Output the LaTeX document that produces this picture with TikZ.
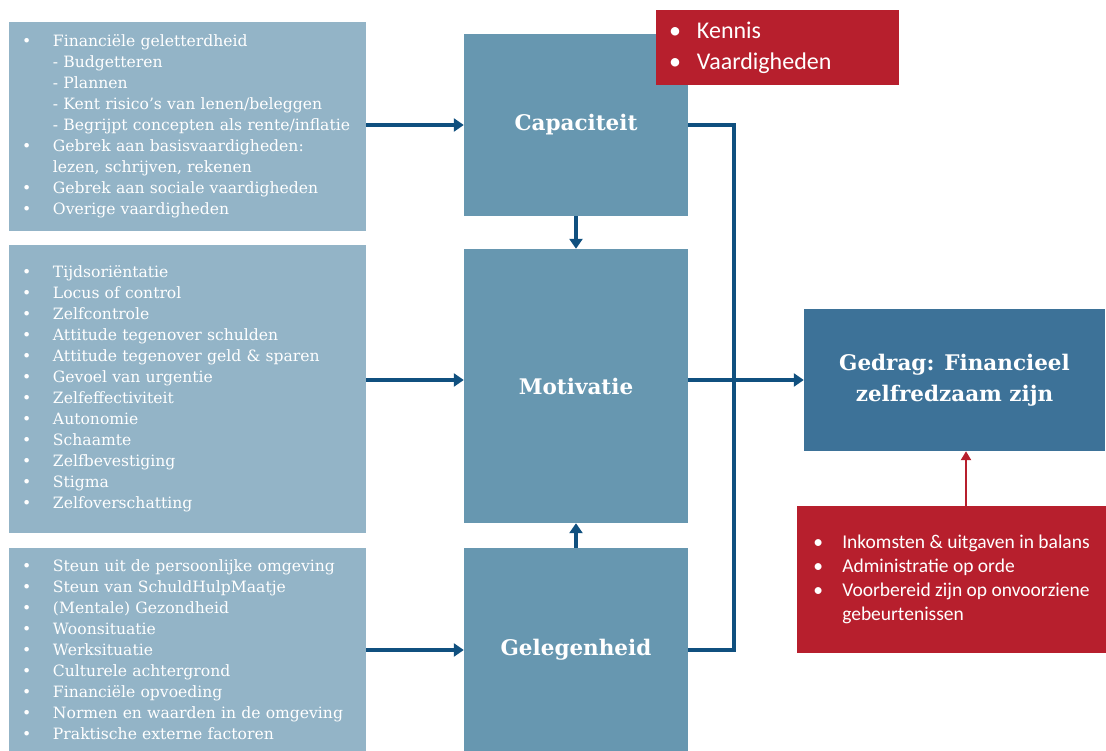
\documentclass[tikz,border=0pt]{standalone}
\usepackage{fontspec}
\setmainfont{DejaVu Serif}
\newfontfamily\calib{Carlito}
\usepackage{tikz}
\usetikzlibrary{arrows.meta,calc,positioning}
\definecolor{factblue}{HTML}{93B4C7}
\definecolor{midblue}{HTML}{6797B0}
\definecolor{gedblue}{HTML}{3D7298}
\definecolor{linkblue}{HTML}{10507F}
\definecolor{boxred}{HTML}{B71F2D}
\newcommand{\bul}[2][31pt]{\makebox[#1][l]{\textbullet}#2}
\newcommand{\ind}[2][31pt]{\hspace*{#1}#2}
\tikzset{
  factor/.style = {fill=factblue, text=white, minimum width=357, inner xsep=13pt,
                   text width=331pt, align=left,
                   font=\fontsize{15.6}{21}\selectfont},
  core/.style   = {fill=midblue, text=white, minimum width=224, align=center,
                   font=\bfseries\fontsize{21.5}{31}\selectfont},
  redbox/.style = {fill=boxred, text=white, align=left, inner xsep=13pt},
  wire/.style   = {line width=3.2pt, linkblue},
  vec/.style    = {-{Triangle[length=10pt,width=13pt]}, line width=3.2pt, linkblue},
  rvec/.style   = {-{Triangle[length=9pt,width=10pt]}, line width=2.2pt, boxred},
}
\begin{document}
\begin{tikzpicture}[x=1pt,y=-1pt]
  \useasboundingbox (0,0) rectangle (1106,751);
  % factor lists
  \node[factor, minimum height=209] (fac1) at (187.5,126.5) {%
    \bul{Financiële geletterdheid}\\
    \ind{- Budgetteren}\\
    \ind{- Plannen}\\
    \ind{- Kent risico’s van lenen/beleggen}\\
    \ind{- Begrijpt concepten als rente/inflatie}\\
    \bul{Gebrek aan basisvaardigheden:}\\
    \ind{lezen, schrijven, rekenen}\\
    \bul{Gebrek aan sociale vaardigheden}\\
    \bul{Overige vaardigheden}};
  \node[factor, minimum height=288] (fac2) at (187.5,389) {%
    \bul{Tijdsoriëntatie}\\
    \bul{Locus of control}\\
    \bul{Zelfcontrole}\\
    \bul{Attitude tegenover schulden}\\
    \bul{Attitude tegenover geld \& sparen}\\
    \bul{Gevoel van urgentie}\\
    \bul{Zelfeffectiviteit}\\
    \bul{Autonomie}\\
    \bul{Schaamte}\\
    \bul{Zelfbevestiging}\\
    \bul{Stigma}\\
    \bul{Zelfoverschatting}};
  \node[factor, minimum height=204] (fac3) at (187.5,650) {%
    \bul{Steun uit de persoonlijke omgeving}\\
    \bul{Steun van SchuldHulpMaatje}\\
    \bul{(Mentale) Gezondheid}\\
    \bul{Woonsituatie}\\
    \bul{Werksituatie}\\
    \bul{Culturele achtergrond}\\
    \bul{Financiële opvoeding}\\
    \bul{Normen en waarden in de omgeving}\\
    \bul{Praktische externe factoren}};
  % COM-B core
  \node[core, minimum height=182] (cap) at (576,125) {Capaciteit};
  \node[core, minimum height=274] (mot) at (576,386) {Motivatie};
  \node[core, minimum height=204] (gel) at (576,650) {Gelegenheid};
  \node[core, fill=gedblue, minimum width=301, minimum height=142]
       (ged) at (954.5,380) {Gedrag: Financieel\\zelfredzaam zijn};
  % red notes
  \node[redbox, minimum width=243, minimum height=75, text width=217pt,
        font=\calib\fontsize{24}{31}\selectfont] (know) at (777.5,47.5) {%
    \bul[28pt]{Kennis}\\
    \bul[28pt]{Vaardigheden}};
  \node[redbox, minimum width=309, minimum height=147,
        font=\calib\fontsize{19.5}{24}\selectfont] (res) at (951.5,579.5) {%
    \bul[29pt]{Inkomsten \& uitgaven in balans}\\
    \bul[29pt]{Administratie op orde}\\
    \bul[29pt]{Voorbereid zijn op onvoorziene}\\
    \ind[29pt]{gebeurtenissen}};
  % connectors
  \draw[vec] (fac1.east |- cap) -- (cap.west);
  \draw[vec] (fac2.east |- ged) -- (mot.west |- ged);
  \draw[vec] (fac3.east |- gel) -- (gel.west);
  \draw[vec] (cap.south) -- (mot.north);
  \draw[vec] (gel.north) -- (mot.south);
  \coordinate (jtop) at (734,125);
  \coordinate (jbot) at (734,650);
  \draw[wire, line join=miter] (cap.east) -- (jtop) -- (jbot) -- (gel.east);
  \draw[vec] (mot.east |- ged) -- (ged.west);
  \draw[rvec] ([xshift=14.5pt]res.north) -- ([xshift=14.5pt]res.north |- ged.south);
\end{tikzpicture}
\end{document}
